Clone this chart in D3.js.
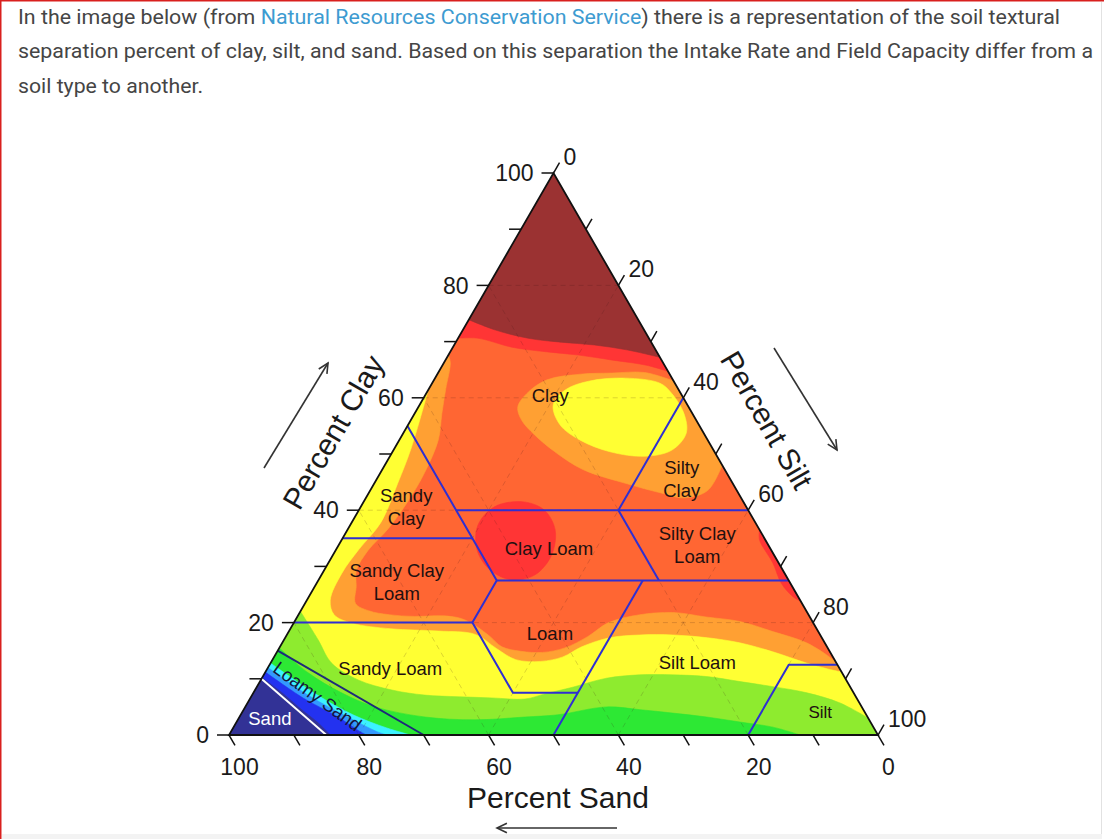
<!DOCTYPE html>
<html><head><meta charset="utf-8">
<script src="https://cdn.jsdelivr.net/npm/d3@7/dist/d3.min.js"></script>
<style>html,body{margin:0;padding:0;background:#fff;overflow:hidden}svg{display:block}</style>
</head><body>
<svg id="chart" width="1104" height="839" xmlns="http://www.w3.org/2000/svg"></svg>
<script>
// ================= DATA =================
const axisTicks = [0,10,20,30,40,50,60,70,80,90,100];
const axisLabels = [0,20,40,60,80,100];
const gridValues = [20,40,60,80];
const titleClay = "Percent Clay", titleSilt = "Percent Silt", titleSand = "Percent Sand";

const introLines = [
  [["In the image below (from ", 0], ["Natural Resources Conservation Service", 1], [") there is a representation of the soil textural", 0]],
  [["separation percent of clay, silt, and sand. Based on this separation the Intake Rate and Field Capacity differ from a", 0]],
  [["soil type to another.", 0]]
];

// USDA texture class boundaries, points as [clay %, silt %]
const classLines = [
  [[55,0],[40,15],[35,20],[27.5,27.5],[20,27.5],[7.5,40],[7.5,50],[0,50]],
  [[40,15],[40,60]],
  [[40,40],[60,40]],
  [[35,0],[35,20]],
  [[40,40],[27.5,52.5]],
  [[27.5,27.5],[27.5,72.5]],
  [[20,0],[20,27.5]],
  [[7.5,50],[27.5,50]],
  [[12.5,87.5],[12.5,80],[0,80]]
];
const loamySandLine = [[15,0],[0,30]];
const sandLine = [[10,0],[0,15]];

// class names with anchor [clay, silt]
const classNames = [
  {t:["Clay"], at:[59.2,19.9]},
  {t:["Silty","Clay"], at:[46.5,46.5]},
  {t:["Sandy","Clay"], at:[41.4,6.6]},
  {t:["Clay Loam"], at:[32.0,33.3]},
  {t:["Silty Clay","Loam"], at:[34.7,54.8]},
  {t:["Sandy Clay","Loam"], at:[28.1,11.8]},
  {t:["Loam"], at:[16.9,41.0]},
  {t:["Silt Loam"], at:[11.7,66.3]},
  {t:["Sandy Loam"], at:[10.7,19.5]},
  {t:["Silt"], at:[3.0,89.6]},
  {t:["Sand"], at:[1.8,5.4]}
];
const loamySandName = {t:"Loamy Sand", at:[6.9,10.2]};

// contour level boundaries, [clay %, silt %]
const lightOrangeMain = [[67.6,0],[66.2,1.0],[61.6,2.6],[57.2,4.2],[52.5,6.0],[46.7,6.8],[41.8,6.8],[36.8,6.2],[32.8,5.0],[29.3,5.0],[26.4,6.4],[23.4,7.8],[22.1,10.5],[21.4,14],[21.1,18],[21.2,22.5],[20.7,25.5],[19.3,28.5],[17.5,31.5],[15.7,34.2],[14.9,37.5],[14.7,41.0],[15.5,44.0],[17.5,46.5],[20.0,48.5],[21.4,52.6],[21.8,57.5],[21.0,63.0],[20.2,68.6],[18.4,74.6],[16.4,80.8],[13.5,86.2],[12.7,87.3]];
const lightOrangeIsland = [[48,52],[43.5,52],[42.2,49],[43.1,44.9],[44.7,39.0],[47.2,31.0],[50.4,25.0],[53.4,20.4],[56.0,17.1],[58.4,15.3],[61.0,15.6],[63.2,17.4],[64.2,22.0],[64.4,26.8],[64.5,31.8],[63.0,37.0]];
const yellowMain = [[61.4,0],[58.3,0.8],[50.8,2.6],[44.8,3.6],[37.8,4.5],[33.0,3.5],[28.8,3.0],[24.0,3.6],[21.4,5.5],[19.9,9],[18.9,15.5],[18.5,23],[17.9,29],[15.4,33.5],[13.4,37.5],[13.1,41.5],[13.9,44.5],[15.7,46.5],[17.3,50],[17.8,54.4],[17.8,59.5],[17.3,65.1],[16.4,70.5],[14.8,76.4],[12.8,82.6],[11.5,87.4],[11.2,88.8]];
const yellowIsland = [[58.7,20.6],[61.4,21.1],[63.0,24.1],[63.5,29.3],[62.6,35.1],[60.8,37.8],[57.2,41.5],[53.7,43.6],[50.7,42.9],[49.6,39.3],[50.4,33.5],[52.5,27.8],[55.2,23.4]];
const lightGreenMain = [[22,0],[16.9,5.3],[12.8,9.4],[9.8,15.0],[8.0,21.1],[7.1,26.6],[6.8,32.0],[6.6,37.2],[6.4,42.4],[7.3,45.0],[8.5,48.7],[10.1,53.1],[10.7,57.9],[10.7,63.0],[10.4,68.4],[9.5,74.0],[8.6,79.5],[7.5,85.3],[5.7,91.3],[3.0,97.0]];
const greenMain = [[15.5,0],[11.1,6.6],[7.5,13.6],[5.0,20.0],[3.2,28.6],[2.7,36.6],[3.2,44.0],[3.6,48.9],[5.0,55.7],[4.5,61.1],[3.9,66.4],[3.2,72.0],[2.3,77.6],[1.4,83.1],[0,88.0]];
const cyanMain = [[12.8,0],[7.2,9.9],[3.6,17.3],[1.25,23.7],[0,28.0]];
const lightBlueMain = [[12.0,0],[6.9,9.0],[3.3,16.5],[0.6,22.5],[0,24.3]];
const blueMain = [[11.2,0],[6.6,8.1],[3.3,15.0],[0.6,19.9],[0,21.2]];
const navyMain = [[10.2,0],[7.4,4.6],[4.6,8.8],[2.2,12.6],[0,15.6]];
const redTop = [[70.6,0],[70.6,3.1],[69.0,9.1],[68.2,14.7],[67.6,20.1],[66.7,25.8],[65.8,31.4],[64.7,35.3]];
const darkRedTop = [[73.9,0],[72.1,4.9],[70.6,10.8],[69.9,16.2],[69.4,21.6],[68.5,27.2],[67.2,32.8]];
const redIsland = [[41.5,24.5],[40.0,28.6],[36.5,32.0],[32.0,33.7],[28.5,32.9],[27.6,29.8],[29.4,25.5],[33.0,21.7],[37.3,19.7],[40.6,20.6]];
const redEdgeStrip = [[36.5,63.5],[34.7,64.4],[30.6,68.5],[27.0,71.6],[24.6,74.6],[23.8,76.2]];

// ================= STYLE =================
const C = {navy:'#323296', blue:'#2332F0', lblue:'#3399FF', cyan:'#3CF2FF', green:'#2DE834', lgreen:'#8EEB2F',
  yellow:'#FFFF33', lorange:'#FFA033', orange:'#FF6633', red:'#FF3535', dred:'#9B3232'};
const FONT = '"Liberation Sans", Arial, Helvetica, sans-serif';

// ================= SCALES =================
const svg = d3.select('#chart');
const xS = d3.scaleLinear().domain([0,100]).range([229,878]);
const yS = d3.scaleLinear().domain([0,100]).range([735,173]);
const P = (c,s) => [xS(s + c/2), yS(c)];
const APEX=[100,0], LEFT=[0,0], RIGHT=[0,100];

const openCurve = d3.line().x(d=>P(d[0],d[1])[0]).y(d=>P(d[0],d[1])[1]).curve(d3.curveCatmullRom.alpha(0.5));
const closedCurve = d3.line().x(d=>P(d[0],d[1])[0]).y(d=>P(d[0],d[1])[1]).curve(d3.curveCatmullRomClosed.alpha(0.5));
const straight = d3.line().x(d=>P(d[0],d[1])[0]).y(d=>P(d[0],d[1])[1]);
function band(pts, via){ let d=openCurve(pts); via.forEach(q=>{const p=P(q[0],q[1]); d+='L'+p[0]+','+p[1];}); return d+'Z'; }

// ================= PAGE FRAME & INTRO =================
svg.append('rect').attr('x',0).attr('y',0).attr('width',1104).attr('height',839).attr('fill','#fff');
svg.append('line').attr('x1',0).attr('x2',1104).attr('y1',0.75).attr('y2',0.75).attr('stroke','#d9201e').attr('stroke-width',1.5);
svg.append('line').attr('x1',0.75).attr('x2',0.75).attr('y1',0).attr('y2',839).attr('stroke','#d9201e').attr('stroke-width',1.5);
svg.append('line').attr('x1',1101.5).attr('x2',1101.5).attr('y1',2).attr('y2',839).attr('stroke','#e2e2e2').attr('stroke-width',1);
svg.append('rect').attr('x',2).attr('y',834).attr('width',1100).attr('height',5).attr('fill','#f3f3f3');

const introW = [1042, 1075, 185];
const introY = [23.5, 58, 92.5];
introLines.forEach((ln,i)=>{
  const t = svg.append('text').attr('x',18).attr('y',introY[i]).attr('font-family','Roboto, "Noto Sans", sans-serif')
    .attr('font-size',19.5).attr('fill','#444').attr('textLength',introW[i]).attr('lengthAdjust','spacingAndGlyphs');
  ln.forEach(seg=>t.append('tspan').text(seg[0]).attr('fill', seg[1]? '#3d9bd1':'#454545'));
});

// ================= CONTOUR FILL =================
const triD = straight([LEFT,RIGHT,APEX]) + 'Z';
svg.append('defs').append('clipPath').attr('id','tri').append('path').attr('d',triD);
const g = svg.append('g').attr('clip-path','url(#tri)');
g.append('path').attr('d',triD).attr('fill',C.orange);
const layers = [
  [band(lightOrangeMain,[RIGHT,LEFT]), C.lorange],
  [band(lightOrangeIsland,[]), C.lorange],
  [band(yellowMain,[RIGHT,LEFT]), C.yellow],
  [closedCurve(yellowIsland), C.yellow],
  [band(lightGreenMain,[RIGHT,LEFT]), C.lgreen],
  [band(greenMain,[LEFT]), C.green],
  [band(cyanMain,[LEFT]), C.cyan],
  [band(lightBlueMain,[LEFT]), C.lblue],
  [band(blueMain,[LEFT]), C.blue],
  [band(navyMain,[LEFT]), C.navy],
  [band(redTop,[APEX]), C.red],
  [band(darkRedTop,[APEX]), C.dred],
  [closedCurve(redIsland), C.red],
  [band(redEdgeStrip,[]), C.red]
];
layers.forEach(l=>g.append('path').attr('d',l[0]).attr('fill',l[1]).attr('stroke',l[1]).attr('stroke-width',0.6));

// ================= GRID =================
const grid = svg.append('g').attr('stroke','rgba(60,20,20,0.18)').attr('stroke-width',1).attr('stroke-dasharray','5,4').attr('fill','none');
gridValues.forEach(v=>{
  grid.append('path').attr('d', straight([[v,0],[v,100-v]]));         // clay
  grid.append('path').attr('d', straight([[0,v],[100-v,v]]));         // silt
  grid.append('path').attr('d', straight([[0,100-v],[100-v,0]]));     // sand
});

// ================= CLASS LINES =================
const cl = svg.append('g').attr('fill','none').attr('stroke-linejoin','round');
classLines.forEach(l=>cl.append('path').attr('d',straight(l)).attr('stroke','#2f2fd2').attr('stroke-width',2));
cl.append('path').attr('d',straight(loamySandLine)).attr('stroke','#1d2a7a').attr('stroke-width',2);
cl.append('path').attr('d',straight(sandLine)).attr('stroke','#ffffff').attr('stroke-width',2);

// ================= OUTLINE & TICKS =================
svg.append('path').attr('d',triD).attr('fill','none').attr('stroke','#111').attr('stroke-width',1.8).attr('stroke-linejoin','miter');
const tk = svg.append('g').attr('stroke','#111').attr('stroke-width',1.5);
const TL = 12, ca = Math.cos(Math.PI/3)*TL, sa = Math.sin(Math.PI/3)*TL;
axisTicks.forEach(v=>{
  let p = P(v,0); tk.append('line').attr('x1',p[0]-TL).attr('y1',p[1]).attr('x2',p[0]).attr('y2',p[1]);
  p = P(0,100-v); tk.append('line').attr('x1',p[0]).attr('y1',p[1]).attr('x2',p[0]+ca).attr('y2',p[1]+sa);
  p = P(100-v,v); tk.append('line').attr('x1',p[0]).attr('y1',p[1]).attr('x2',p[0]+ca).attr('y2',p[1]-sa);
});
const tl = svg.append('g').attr('font-family',FONT).attr('font-size',23).attr('fill','#1a1a1a');
axisLabels.forEach(v=>{
  let p = P(v,0); tl.append('text').attr('x',p[0]-20).attr('y',p[1]).attr('dy','0.36em').attr('text-anchor','end').text(v);
  p = P(0,100-v); tl.append('text').attr('x',p[0]+10.5).attr('y',p[1]+40).attr('text-anchor','middle').text(v);
  p = P(100-v,v); tl.append('text').attr('x',p[0]+10).attr('y',p[1]-8).attr('text-anchor','start').text(v);
});

// ================= AXIS TITLES & ARROWS =================
const at = svg.append('g').attr('font-family',FONT).attr('font-size',30).attr('fill','#1a1a1a').attr('text-anchor','middle');
at.append('text').attr('x',558).attr('y',808).text(titleSand);
at.append('text').attr('transform','translate(333,432) rotate(-60)').attr('dy','0.36em').text(titleClay);
at.append('text').attr('transform','translate(767,420) rotate(60)').attr('dy','0.36em').text(titleSilt);
function arrow(x1,y1,x2,y2){
  const a = Math.atan2(y2-y1,x2-x1), h=11, w=0.45;
  const ag = svg.append('g').attr('stroke','#333').attr('stroke-width',1.6).attr('fill','none');
  ag.append('line').attr('x1',x1).attr('y1',y1).attr('x2',x2).attr('y2',y2);
  ag.append('path').attr('d',`M${x2-h*Math.cos(a-w)},${y2-h*Math.sin(a-w)}L${x2},${y2}L${x2-h*Math.cos(a+w)},${y2-h*Math.sin(a+w)}`);
}
arrow(617,828,497,828);
arrow(264,468,328,363);
arrow(774,348,837,450);

// ================= CLASS NAMES =================
const cn = svg.append('g').attr('font-family',FONT).attr('font-size',18.5).attr('text-anchor','middle');
classNames.forEach(d=>{
  const p = P(d.at[0],d.at[1]);
  d.t.forEach((s,i)=>cn.append('text').attr('x',p[0]).attr('y',p[1]+i*23).attr('fill', s==='Sand' ? '#ffffff' : '#221010')
    .attr('font-size', s==='Silt'?17:18.5).text(s));
});
const lp = P(loamySandName.at[0],loamySandName.at[1]);
cn.append('text').attr('transform',`translate(${lp[0]},${lp[1]}) rotate(36)`).attr('dy','0.36em').attr('fill','#15153a').text(loamySandName.t);
</script>
</body></html>
